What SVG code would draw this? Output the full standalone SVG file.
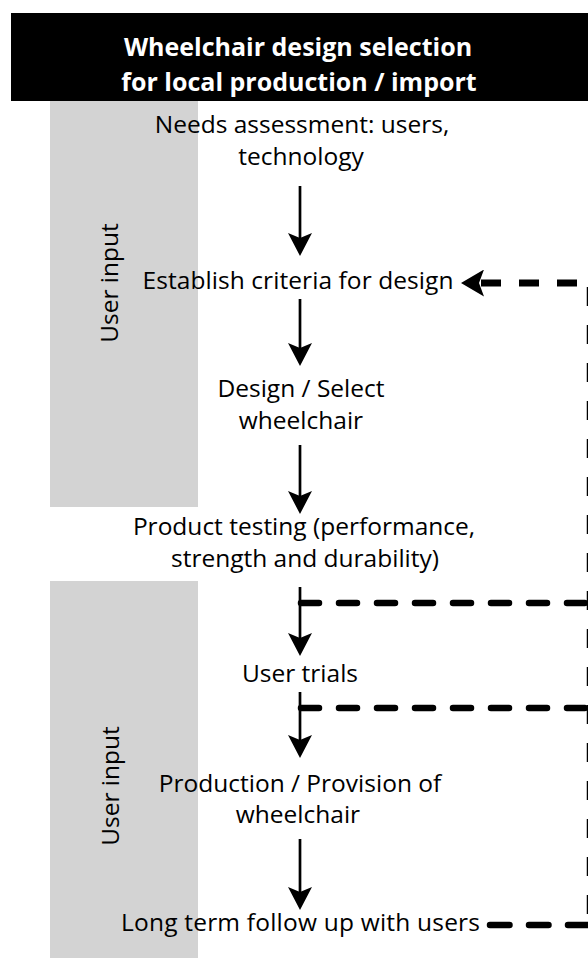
<svg xmlns="http://www.w3.org/2000/svg" width="588" height="958" viewBox="0 0 588 958">
<style>
.band{fill:#d3d3d3}
.t{font-family:"Open Sans","Noto Sans","Liberation Sans",sans-serif;font-size:24.5px;fill:#000;text-anchor:middle}
.h{font-family:"Open Sans","Noto Sans","Liberation Sans",sans-serif;font-size:25px;font-weight:bold;fill:#fff;text-anchor:middle}
.arr{stroke:#000;stroke-width:2.7;fill:none;marker-end:url(#ah)}
.dash{stroke:#000;stroke-width:6.5;fill:none;stroke-linecap:round;stroke-dasharray:18 20}
.dashb{stroke:#000;stroke-width:7;fill:none;stroke-dasharray:20 18}
</style>
<defs>
<marker id="ah" markerUnits="userSpaceOnUse" markerWidth="23" markerHeight="24" viewBox="0 0 23 24" refX="12" refY="12" orient="auto">
<path d="M0,0 L23,12 L0,24 L5,12 Z" fill="#000"/>
</marker>
<marker id="ahL" markerUnits="userSpaceOnUse" markerWidth="23" markerHeight="27" viewBox="0 0 23 27" refX="3" refY="13.5" orient="auto-start-reverse">
<path d="M0,0 L23,13.5 L0,27 L5,13.5 Z" fill="#000"/>
</marker>
</defs>

<g id="header">
<rect x="11" y="13" width="577" height="88" fill="#000"/>
<text class="h" x="298" y="56">Wheelchair design selection</text>
<text class="h" x="299" y="91">for local production / import</text>
</g>

<g id="bands">
<rect class="band" x="50" y="101" width="148" height="406"/>
<rect class="band" x="50" y="581" width="148" height="377"/>
<text class="t" transform="translate(118,283) rotate(-90)" x="0" y="0">User input</text>
<text class="t" transform="translate(119,786) rotate(-90)" x="0" y="0">User input</text>
</g>

<g id="needs">
<text class="t" x="302" y="133">Needs assessment: users,</text>
<text class="t" x="301" y="165">technology</text>
</g>
<g id="criteria">
<text class="t" x="298" y="289" textLength="311" lengthAdjust="spacing">Establish criteria for design</text>
</g>
<g id="design">
<text class="t" x="301" y="397">Design / Select</text>
<text class="t" x="301" y="429">wheelchair</text>
</g>
<g id="testing">
<text class="t" x="304" y="535">Product testing (performance,</text>
<text class="t" x="305" y="567">strength and durability)</text>
</g>
<g id="trials">
<text class="t" x="300" y="682">User trials</text>
</g>
<g id="production">
<text class="t" x="300" y="792">Production / Provision of</text>
<text class="t" x="298" y="823">wheelchair</text>
</g>
<g id="followup">
<text class="t" x="300.5" y="931" textLength="359" lengthAdjust="spacing">Long term follow up with users</text>
</g>

<g id="connectors">
<path class="arr" d="M300,186 V245"/>
<path class="arr" d="M300,299 V355"/>
<path class="arr" d="M300,445 V503"/>
<path class="arr" d="M300,587 V645"/>
<path class="arr" d="M300,692 V747"/>
<path class="arr" d="M300,839 V899"/>
<path class="dashb" d="M481,283 H590" marker-start="url(#ahL)"/>
<path class="dashb" d="M590,287 V928" style="stroke-dasharray:19 19;stroke-width:6.5"/>
<path class="dash" d="M301,603 H590"/>
<path class="dash" d="M301,708 H590"/>
<path class="dash" d="M490,925 H590" style="stroke-dasharray:19.5 19.5"/>
</g>
</svg>
